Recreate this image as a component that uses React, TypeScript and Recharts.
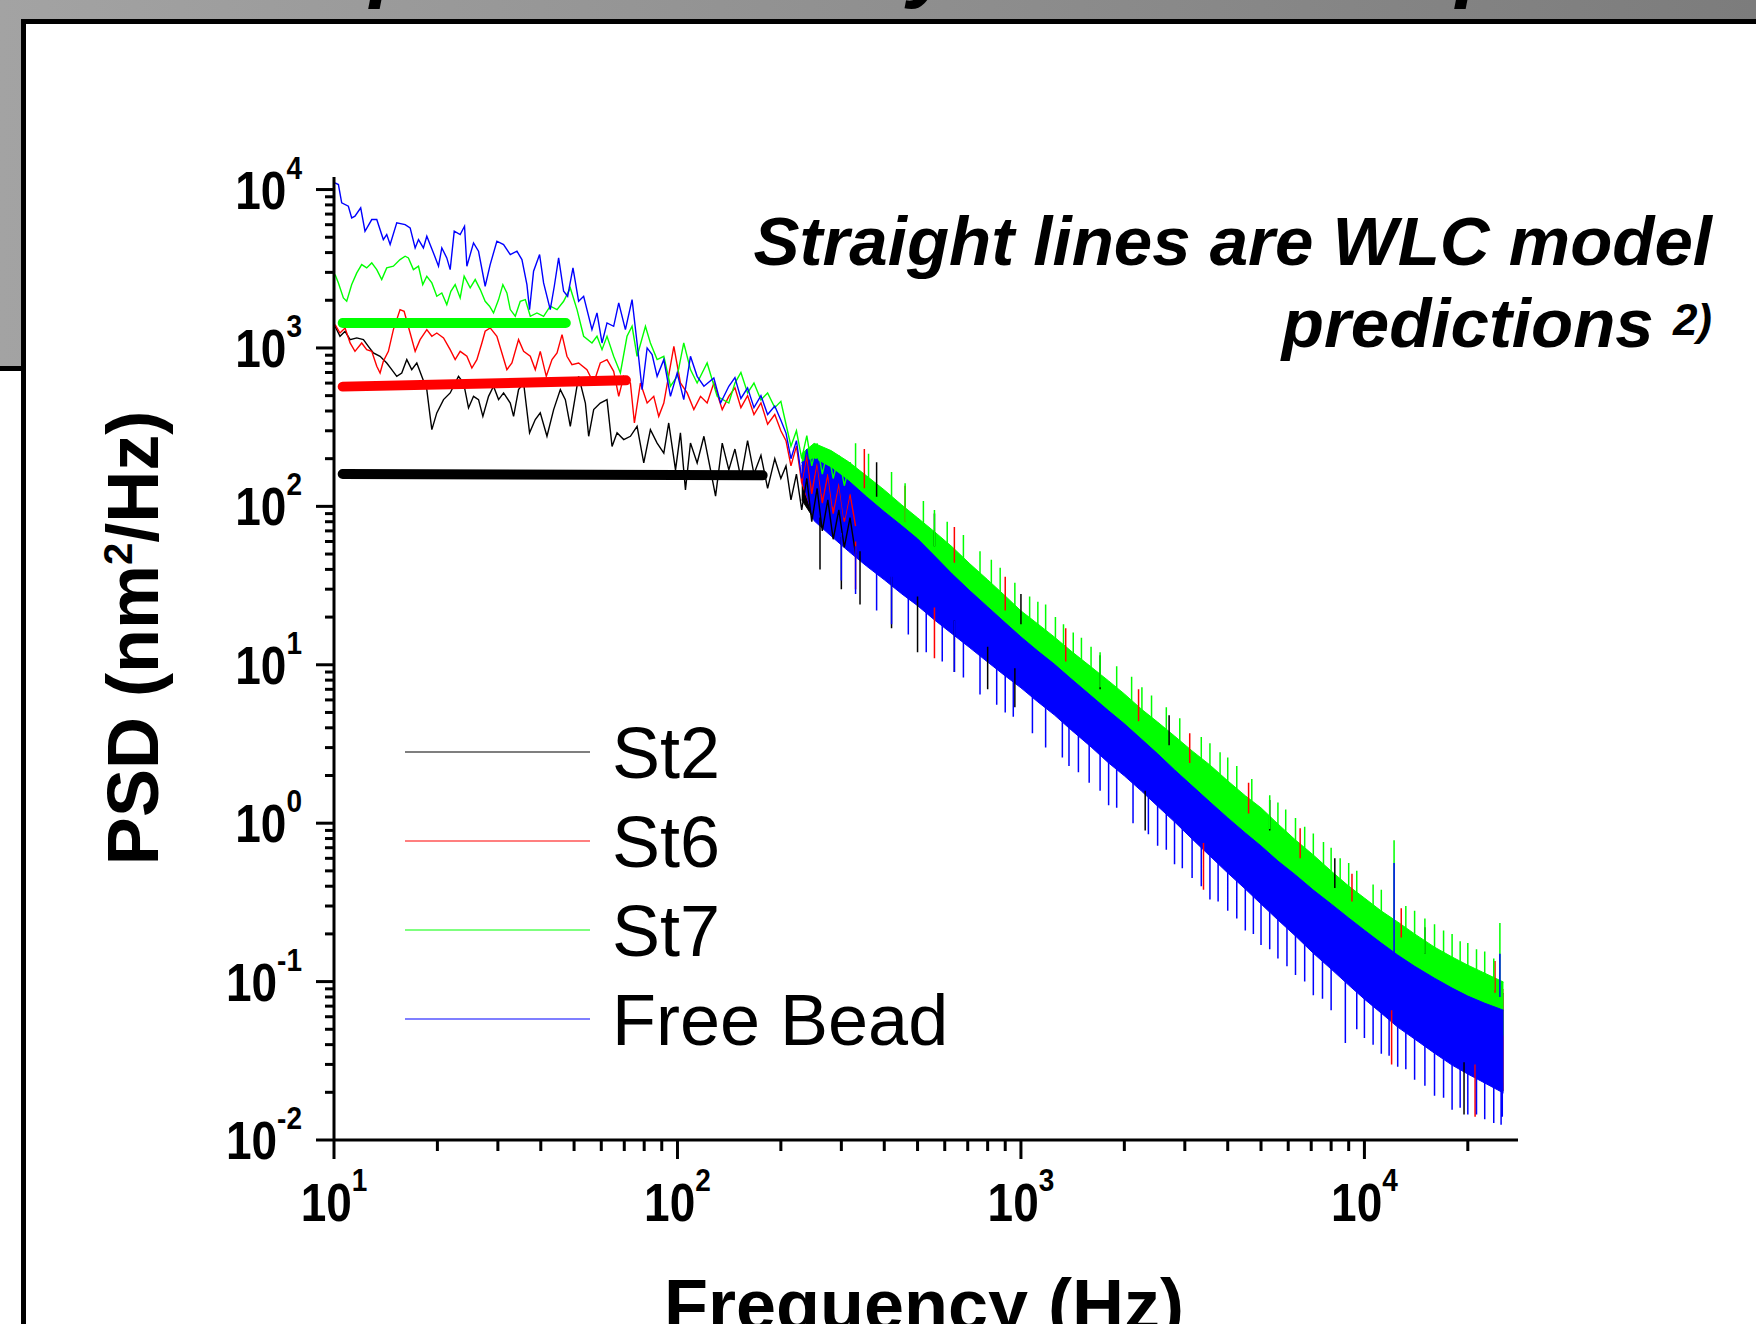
import { ComposedChart, Line, Area, XAxis, YAxis, Legend } from 'recharts'

const FONT = '"Liberation Sans", Arial, Helvetica, sans-serif'

const SERIES = ['St2', 'St6', 'St7', 'Free Bead']
const COLORS = ['#000000', '#ff0000', '#00ff00', '#0000ff']

const X_DECADES = [10, 100, 1000, 10000]
const Y_DECADES = [0.01, 0.1, 1, 10, 100, 1000, 10000]
const MINOR = [1, 2, 3, 4, 5, 6, 7, 8, 9]
const X_DOMAIN: [number, number] = [10, 28000]
const Y_DOMAIN: [number, number] = [0.01, 12000]

// low frequency part of each spectrum, [Hz, nm^2/Hz]
const ST2_LOW = [
  [10.07, 1370], [10.41, 1185], [10.77, 1274], [11.14, 1129], [11.65, 1157], [12.18, 1129], [12.59, 1024], [13.02, 930],
  [13.62, 886], [14.24, 804], [14.73, 730], [15.23, 662], [15.75, 695], [16.29, 844], [16.84, 730], [17.42, 804],
  [18.01, 662], [18.63, 546], [19.05, 370], [19.27, 305], [19.92, 389], [20.84, 472], [21.79, 520], [23.04, 662],
  [23.84, 601], [24.64, 418], [25.48, 495], [26.35, 472], [27.13, 370], [28.18, 495], [29.14, 573], [30.14, 472],
  [31.17, 520], [32.6, 449], [33.33, 370], [34.46, 546], [35.65, 601], [37.1, 291], [38.55, 353], [39.86, 389],
  [41.69, 277], [43.6, 408], [45.6, 546], [47.16, 472], [48.75, 320], [51.55, 662], [53.93, 449], [55.14, 277],
  [57.02, 408], [59.6, 449], [62.35, 472], [64.5, 239], [66.7, 291], [69.74, 264], [72.94, 277], [76.28, 320],
  [79.77, 188], [83.4, 305], [87.25, 251], [91.25, 217], [94.3, 336], [98.7, 170], [102, 291], [105.5, 127],
  [109.1, 251], [114.1, 188], [119.4, 277], [124.8, 170], [129.1, 116], [135, 251], [141.1, 170], [147, 230],
  [153, 150], [160, 260], [167, 160], [175, 210], [183, 130], [192, 200], [200, 150], [207, 180], [214, 110],
  [222, 160], [230, 95], [238, 150], [246, 80], [255, 130], [264, 70], [274, 110], [284, 62], [295, 95], [306, 55],
  [318, 85], [330, 50],
]
const ST6_LOW = [
  [10.07, 1404], [10.41, 1243], [10.77, 1338], [11.14, 1075], [11.51, 952], [12.04, 1075], [12.45, 976], [12.88, 952],
  [13.32, 766], [13.62, 695], [13.92, 824], [14.4, 952], [14.89, 1306], [15.23, 1510], [15.57, 1747], [16, 1705],
  [16.66, 1243], [17.23, 952], [17.81, 1129], [18.63, 1306], [19.27, 1185], [19.92, 1243], [20.84, 1157], [21.79, 976],
  [22.53, 844], [23.3, 952], [24.37, 886], [25.2, 747], [26.06, 844], [26.95, 1075], [27.55, 1274], [28.49, 1338],
  [29.8, 1185], [30.82, 930], [31.87, 730], [32.96, 804], [34.46, 1129], [35.65, 952], [37.28, 886], [38.55, 730],
  [39.86, 952], [41.5, 662], [43.12, 844], [44.6, 930], [46.12, 1214], [47.67, 886], [49.3, 785], [51.55, 804],
  [54.5, 730], [57.02, 601], [59.6, 804], [62.35, 844], [65.2, 712], [67.45, 495], [69.74, 662], [72.94, 601],
  [74.93, 336], [78, 601], [81.6, 449], [85.3, 495], [88.2, 370], [91.25, 449], [97.6, 1024], [102, 601],
  [106.7, 520], [111.6, 408], [116.7, 495], [122, 449], [127.6, 601], [135, 408], [141.1, 495], [147, 560],
  [153, 420], [160, 500], [167, 380], [175, 450], [183, 330], [192, 380], [200, 300], [207, 260], [214, 180],
  [222, 240], [230, 140], [238, 210], [246, 120], [255, 190], [264, 105], [274, 160], [284, 90], [295, 140], [306, 80],
  [318, 120], [330, 75],
]
const ST7_LOW = [
  [10.07, 2905], [10.3, 2574], [10.65, 2069], [10.89, 1971], [11.26, 2512], [11.65, 2977], [12.04, 3360], [12.45, 3201],
  [12.88, 3442], [13.32, 3124], [13.77, 2702], [14.24, 3201], [14.89, 3280], [15.57, 3613], [16.11, 3793], [16.47, 3702],
  [17.03, 3124], [17.62, 3280], [18.13, 2512], [18.63, 2836], [19.27, 2574], [19.92, 2120], [20.6, 2225], [21.3, 1878],
  [21.89, 2280], [22.53, 2512], [23.3, 2069], [23.93, 2836], [24.92, 2393], [25.77, 2702], [26.66, 2336], [27.55, 1971],
  [28.37, 1834], [29.14, 1664], [30.14, 2020], [31.02, 2512], [31.87, 2225], [32.6, 1747], [33.71, 1585], [34.86, 1971],
  [36.06, 2020], [37.28, 1585], [38.98, 1664], [40.76, 1585], [42.62, 1834], [44.6, 1747], [46.62, 1971], [48.75, 2393],
  [51, 1747], [53.31, 1185], [56.37, 1075], [58.3, 1185], [60.3, 976], [62.35, 1185], [65.2, 886], [68.2, 695],
  [71.3, 1185], [73.76, 1370], [76.28, 886], [80.68, 1370], [83.4, 1075], [87.25, 844], [91.25, 886], [95.41, 573],
  [99.8, 662], [104.3, 1075], [109.1, 730], [114.1, 601], [122, 804], [130.5, 495], [141.1, 449], [147, 600],
  [153, 700], [160, 520], [167, 600], [175, 470], [183, 520], [192, 420], [200, 460], [207, 330], [214, 240],
  [222, 300], [230, 200], [238, 280], [246, 180], [255, 250], [264, 160], [274, 230], [284, 150], [295, 210], [306, 135],
  [318, 190], [330, 140],
]
const FREE_LOW = [
  [10.07, 11020], [10.3, 10750], [10.53, 8236], [11.01, 7846], [11.26, 6624], [11.51, 6785], [11.96, 7660], [12.31, 5455],
  [12.88, 6464], [13.32, 6464], [13.92, 4833], [14.24, 5197], [14.57, 4494], [15.23, 6158], [16.11, 6012], [16.66, 5727],
  [17.23, 4281], [17.62, 4833], [18.21, 4281], [18.63, 5073], [19.48, 3981], [20.15, 3280], [20.6, 4281], [21.3, 3702],
  [21.79, 3124], [22.39, 5455], [23.3, 5197], [23.99, 5866], [24.37, 3280], [25.48, 4605], [26.35, 4079], [27.55, 2452],
  [28.49, 3360], [29.8, 4718], [31.17, 4494], [32.6, 3886], [34.09, 4079], [35.25, 3613], [36.45, 2512], [37.1, 1747],
  [38.11, 3050], [39.68, 3886], [40.76, 2574], [42.62, 1747], [43.79, 2452], [45.08, 3702], [46.62, 2280], [47.89, 2120],
  [49.63, 3201], [51.55, 1971], [53.31, 2120], [56.37, 1306], [58.3, 1664], [60.3, 1075], [62.35, 1439], [65.2, 1370],
  [67.45, 1924], [70.53, 1306], [73.76, 2020], [76.28, 1075], [78.89, 546], [81.6, 1000], [84.36, 908], [87.25, 662],
  [91.25, 844], [95.41, 495], [99.8, 695], [104.3, 472], [109.1, 886], [114.1, 662], [119.4, 573], [127.6, 646],
  [133.5, 449], [141.1, 573], [147, 650], [153, 480], [160, 560], [167, 420], [175, 500], [183, 380], [192, 430],
  [200, 350], [207, 290], [214, 200], [222, 260], [230, 150], [238, 230], [246, 140], [255, 200], [264, 120], [274, 175],
  [284, 100], [295, 150], [306, 85], [318, 130], [330, 90],
]

// high frequency part: traces are so dense they read as a band, [low, high] at each BAND_F
const BAND_F = [
  230, 250, 280, 315, 355, 400, 450, 500, 560, 630, 710, 800, 900, 1000, 1120, 1250, 1400, 1600, 1800, 2000, 2240, 2500,
  2800, 3150, 3550, 4000, 4500, 5000, 5600, 6300, 7100, 8000, 9000, 10000, 11200, 12500, 14000, 16000, 18000, 20000,
  22400, 25400,
]
const ST2_BAND = [
  [110, 150], [83, 210], [67, 191], [53.5, 162], [43, 133], [35.4, 108], [28.8, 87], [24.3, 72], [19.8, 59], [16.2, 47],
  [13.2, 37], [10.7, 29], [8.75, 23], [7.36, 18.6], [6.0, 15.4], [4.97, 12.8], [4.0, 10.4], [3.12, 8.2], [2.47, 6.7],
  [2.05, 5.6], [1.65, 4.5], [1.32, 3.7], [1.05, 3.0], [0.82, 2.43], [0.64, 1.98], [0.5, 1.57], [0.395, 1.27], [0.318, 1.06],
  [0.252, 0.84], [0.2, 0.67], [0.156, 0.54], [0.124, 0.42], [0.098, 0.34], [0.08, 0.286], [0.065, 0.237], [0.053, 0.202],
  [0.0447, 0.17], [0.0364, 0.14], [0.0306, 0.122], [0.0269, 0.108], [0.0236, 0.096], [0.0204, 0.084],
]
const ST6_BAND = [
  [140, 180], [85, 225], [68, 203], [55, 172], [44, 140], [36, 114], [29.4, 92], [24.8, 76], [20.2, 62], [16.5, 50],
  [13.4, 39], [10.9, 31], [8.9, 24.5], [7.5, 19.7], [6.1, 16.3], [5.07, 13.5], [4.07, 11], [3.18, 8.7], [2.52, 7.1],
  [2.09, 5.9], [1.68, 4.7], [1.34, 3.9], [1.07, 3.2], [0.835, 2.57], [0.652, 2.1], [0.509, 1.67], [0.403, 1.34],
  [0.324, 1.12], [0.257, 0.89], [0.204, 0.7], [0.159, 0.57], [0.126, 0.45], [0.1, 0.36], [0.081, 0.3], [0.066, 0.25],
  [0.054, 0.214], [0.0456, 0.18], [0.037, 0.149], [0.0312, 0.129], [0.0274, 0.114], [0.024, 0.102], [0.0208, 0.089],
]
const ST7_BAND = [
  [190, 215], [140, 250], [125, 225], [102, 191], [80, 156], [65, 127], [53, 102], [44, 84.7], [34, 69.2], [26, 55.6],
  [20.5, 43.4], [16.2, 34.4], [12.9, 27.2], [10.5, 21.9], [8.5, 18.1], [7.1, 15.0], [5.7, 12.2], [4.5, 9.7], [3.6, 7.91],
  [3.0, 6.55], [2.4, 5.26], [1.92, 4.35], [1.52, 3.55], [1.2, 2.86], [0.95, 2.33], [0.76, 1.85], [0.61, 1.49], [0.5, 1.25],
  [0.4, 0.989], [0.33, 0.783], [0.265, 0.63], [0.216, 0.499], [0.176, 0.401], [0.148, 0.337], [0.122, 0.279],
  [0.103, 0.238], [0.0875, 0.2], [0.0735, 0.165], [0.064, 0.143], [0.057, 0.127], [0.051, 0.113], [0.046, 0.0993],
]
const FREE_BAND = [
  [150, 190], [81, 200], [65, 175], [52, 145], [42, 115], [34.4, 92.5], [28, 75.4], [23.6, 62.4], [19.2, 48.7],
  [15.7, 37.5], [12.8, 29.3], [10.4, 23.2], [8.5, 18.4], [7.15, 15.0], [5.83, 12.2], [4.83, 10.1], [3.88, 8.15],
  [3.03, 6.37], [2.4, 5.12], [1.99, 4.24], [1.6, 3.4], [1.28, 2.74], [1.02, 2.17], [0.795, 1.72], [0.621, 1.36],
  [0.485, 1.08], [0.384, 0.867], [0.309, 0.718], [0.245, 0.577], [0.194, 0.471], [0.151, 0.378], [0.12, 0.309],
  [0.095, 0.252], [0.0775, 0.211], [0.0632, 0.175], [0.0516, 0.147], [0.0434, 0.125], [0.0353, 0.105], [0.0297, 0.091],
  [0.0261, 0.081], [0.0229, 0.073], [0.0198, 0.066],
]

// single spikes that stick out of the bands, [Hz, low, high]
const ST2_SPIKES = [
  [260, 40, 85], [300, 30, 64], [340, 24, 52], [380, 115, 190], [420, 17, 36], [500, 12, 27], [560, 56, 90], [640, 9, 19],
  [800, 7, 13], [960, 5.4, 9.5], [1000, 18, 28], [1700, 7, 11.5], [2300, 0.9, 1.6], [2700, 3.1, 4.8], [5300, 0.9, 1.4],
  [8200, 0.39, 0.6], [15000, 0.15, 0.22], [19500, 0.0145, 0.031],
]
const ST6_SPIKES = [
  [330, 30, 60], [350, 130, 230], [460, 80, 135], [560, 11, 23], [640, 44, 74], [900, 22, 36], [1350, 10.5, 17],
  [2200, 4.4, 7], [3100, 2.4, 3.7], [3400, 0.38, 0.75], [4600, 1.15, 1.8], [6500, 0.6, 0.93], [9200, 0.32, 0.48],
  [12000, 0.03, 0.066], [12800, 0.19, 0.29], [21000, 0.014, 0.03], [24000, 0.085, 0.135],
]
const ST7_SPIKES = [
  [330, 150, 250], [360, 125, 215], [420, 95, 165], [460, 80, 140], [520, 66, 108], [560, 56, 95], [610, 48, 80],
  [680, 38, 66], [760, 31, 52], [820, 27, 46], [870, 24, 41], [960, 19.5, 33], [1060, 16, 27], [1120, 14.5, 25],
  [1180, 13.5, 24], [1260, 12, 20], [1330, 11, 18], [1420, 9.6, 16], [1500, 9, 14.8], [1600, 7.8, 13], [1700, 7.2, 12],
  [1900, 5.8, 9.8], [2100, 5, 8.4], [2250, 4.2, 7.2], [2400, 3.9, 6.4], [2650, 3.3, 5.4], [2900, 2.7, 4.6],
  [3350, 2.1, 3.5], [3550, 1.9, 3.2], [3800, 1.7, 2.8], [4000, 1.5, 2.6], [4250, 1.4, 2.3], [4700, 1.1, 1.9],
  [5300, 0.92, 1.5], [5600, 0.8, 1.35], [5900, 0.75, 1.22], [6300, 0.63, 1.08], [6700, 0.58, 0.95], [7100, 0.5, 0.86],
  [7600, 0.46, 0.76], [8000, 0.4, 0.7], [8500, 0.37, 0.6], [9000, 0.32, 0.56], [9500, 0.3, 0.5], [10600, 0.25, 0.41],
  [11200, 0.22, 0.38], [12200, 0.25, 0.78], [13200, 0.18, 0.3], [14000, 0.16, 0.28], [15000, 0.15, 0.25],
  [16000, 0.13, 0.23], [17000, 0.13, 0.21], [18000, 0.115, 0.2], [19000, 0.11, 0.18], [20000, 0.1, 0.175],
  [21200, 0.1, 0.16], [22400, 0.09, 0.155], [23800, 0.088, 0.14], [24800, 0.1, 0.234],
]
const FREE_SPIKES = [
  [300, 34, 68], [330, 28, 56], [380, 22, 45], [420, 18, 38], [470, 15.5, 31], [530, 12, 26], [590, 10.5, 21], [640, 9, 19],
  [680, 8.3, 17], [760, 6.5, 14], [850, 5.6, 11.5], [900, 5, 10], [950, 4.7, 9.5], [1080, 3.7, 7.5], [1180, 3, 6.5],
  [1320, 2.6, 5.2], [1380, 2.3, 4.9], [1470, 2.1, 4.3], [1580, 1.8, 3.8], [1700, 1.6, 3.3], [1800, 1.3, 2.9],
  [1900, 1.25, 2.6], [2120, 1.0, 2.2], [2350, 0.85, 1.8], [2500, 0.72, 1.55], [2650, 0.68, 1.4], [2800, 0.55, 1.25],
  [2950, 0.52, 1.1], [3150, 0.45, 0.97], [3350, 0.4, 0.86], [3550, 0.33, 0.75], [3750, 0.32, 0.66], [4000, 0.28, 0.59],
  [4250, 0.25, 0.52], [4500, 0.21, 0.47], [4750, 0.2, 0.42], [5000, 0.17, 0.38], [5300, 0.16, 0.34], [5600, 0.14, 0.3],
  [5950, 0.125, 0.27], [6300, 0.11, 0.24], [6700, 0.1, 0.21], [7100, 0.082, 0.185], [7550, 0.078, 0.165],
  [8000, 0.066, 0.145], [8800, 0.041, 0.12], [9500, 0.05, 0.1], [10000, 0.044, 0.095], [10600, 0.04, 0.086],
  [11200, 0.035, 0.077], [11800, 0.034, 0.07], [12200, 0.12, 0.56], [12500, 0.029, 0.063], [13200, 0.028, 0.058],
  [14000, 0.024, 0.053], [15000, 0.022, 0.048], [16000, 0.019, 0.043], [17000, 0.0185, 0.04], [18000, 0.0155, 0.036],
  [19000, 0.016, 0.034], [20000, 0.0145, 0.032], [21200, 0.0145, 0.03], [22400, 0.0135, 0.028], [23800, 0.0128, 0.026],
  [24800, 0.08, 0.15], [25000, 0.0125, 0.024], [25200, 0.014, 0.023],
]

// WLC model predictions (straight lines)
const ST2_MODEL = [[10.6, 160], [177, 157]]
const ST6_MODEL = [[10.6, 570], [70.8, 625]]
const ST7_MODEL = [[10.6, 1439], [47.3, 1439]]

const lowRows = (pts: number[][]) => pts.map(([f, v]) => ({ f, v }))
const bandRows = (band: number[][]) => BAND_F.map((f, i) => ({ f, r: band[i] }))
const spikeRows = (sp: number[][]) => sp.flatMap(([f, lo, hi]) => [{ f, v: lo }, { f, v: hi }, { f, v: null }])

const isMajor = (v: number) => Math.abs(Math.log10(v) - Math.round(Math.log10(v))) < 1e-6
const xTicks = X_DECADES.flatMap(d => MINOR.map(m => d * m)).filter(t => t <= X_DOMAIN[1])
const yTicks = Y_DECADES.flatMap(d => MINOR.map(m => d * m)).filter(t => t <= Y_DOMAIN[1])

function PowLabel({ x, y, exp, anchor }: { x: number; y: number; exp: number; anchor: 'end' | 'middle' }) {
  // the slide's tick digits are a little taller than plain Arial
  return (
    <text transform={`translate(${x},${y}) scale(1,1.15)`} textAnchor={anchor} fontFamily={FONT} fontWeight="bold" fontSize={46} fill="#000">
      10<tspan dy={-26} fontSize={28}>{exp}</tspan>
    </text>
  )
}

function YTick(props: any) {
  const { x, y, payload } = props
  const major = isMajor(payload.value)
  return (
    <g>
      <line x1={x - (major ? 18 : 9)} x2={x} y1={y} y2={y} stroke="#000" strokeWidth={3} />
      {major && <PowLabel x={x - 32} y={y + 19} exp={Math.round(Math.log10(payload.value))} anchor="end" />}
    </g>
  )
}

function XTick(props: any) {
  const { x, y, payload } = props
  const major = isMajor(payload.value)
  return (
    <g>
      <line x1={x} x2={x} y1={y} y2={y + (major ? 19 : 11)} stroke="#000" strokeWidth={3} />
      {major && <PowLabel x={x} y={y + 81} exp={Math.round(Math.log10(payload.value))} anchor="middle" />}
    </g>
  )
}

function LegendBox() {
  return (
    <svg width={620} height={360}>
      {SERIES.map((name, i) => (
        <g key={name}>
          <line x1={5} x2={190} y1={52 + i * 89} y2={52 + i * 89} stroke={COLORS[i]} strokeWidth={1.2} />
          <text x={212} y={78 + i * 89} fontFamily={FONT} fontSize={72} fill="#000">{name}</text>
        </g>
      ))}
    </svg>
  )
}

const LOWS = [ST2_LOW, ST6_LOW, ST7_LOW, FREE_LOW]
const BANDS = [ST2_BAND, ST6_BAND, ST7_BAND, FREE_BAND]
const SPIKES = [ST2_SPIKES, ST6_SPIKES, ST7_SPIKES, FREE_SPIKES]
const MODELS = [ST2_MODEL, ST6_MODEL, ST7_MODEL]

export default function App() {
  return (
    <div style={{ position: 'absolute', left: 0, top: 0, width: 1756, height: 1324, overflow: 'hidden', background: '#fff' }}>
      <div style={{ position: 'absolute', left: 0, top: 0, width: 1756, height: 366, background: 'linear-gradient(to right, #a3a3a3, #7c7c7c)', borderBottom: '5px solid #000' }} />
      <div style={{ position: 'absolute', left: 21, top: 19, width: 1800, height: 1400, background: '#fff', borderLeft: '5px solid #000', borderTop: '5px solid #000' }} />
      <div style={{ position: 'absolute', left: 0, top: 0 }}>
        <ComposedChart width={1756} height={1324} margin={{ top: 177, right: 238, bottom: 0, left: 0 }}>
          <XAxis dataKey="f" type="number" scale="log" domain={X_DOMAIN} allowDataOverflow ticks={xTicks} interval={0}
            tick={<XTick />} tickLine={false} tickSize={0} tickMargin={0} height={184}
            axisLine={{ stroke: '#000', strokeWidth: 3 }} />
          <YAxis type="number" scale="log" domain={Y_DOMAIN} allowDataOverflow ticks={yTicks} interval={0}
            tick={<YTick />} tickLine={false} tickSize={0} tickMargin={0} width={334}
            axisLine={{ stroke: '#000', strokeWidth: 3 }} />
          {BANDS.map((b, i) => (
            <Area key={'band' + i} data={bandRows(b)} dataKey="r" type="linear" stroke={COLORS[i]} strokeWidth={1}
              fill={COLORS[i]} fillOpacity={1} dot={false} activeDot={false} isAnimationActive={false} />
          ))}
          {LOWS.map((pts, i) => (
            <Line key={'low' + i} data={lowRows(pts)} dataKey="v" type="linear" stroke={COLORS[i]} strokeWidth={1.4}
              dot={false} activeDot={false} isAnimationActive={false} />
          ))}
          {SPIKES.map((sp, i) => (
            <Line key={'spike' + i} data={spikeRows(sp)} dataKey="v" type="linear" stroke={COLORS[i]} strokeWidth={1.5}
              dot={false} activeDot={false} isAnimationActive={false} />
          ))}
          {MODELS.map((pts, i) => (
            <Line key={'model' + i} data={lowRows(pts)} dataKey="v" type="linear" stroke={COLORS[i]} strokeWidth={10}
              strokeLinecap="round" dot={false} activeDot={false} isAnimationActive={false} />
          ))}
          <Legend layout="vertical" align="center" verticalAlign="middle" content={<LegendBox />}
            wrapperStyle={{ position: 'absolute', left: 400, top: 700, width: 620, height: 360 }} />
        </ComposedChart>
      </div>
      <svg width={1756} height={1324} style={{ position: 'absolute', left: 0, top: 0, pointerEvents: 'none' }}>
        <g fontFamily={FONT} fontWeight="bold" fontStyle="italic" fontSize={84} fill="#000">
          <text x={370} y={-8}>p</text>
          <text x={908} y={-8}>y</text>
          <text x={1456} y={-8}>p</text>
        </g>
        <text transform="translate(158,638) rotate(-90)" textAnchor="middle" fontFamily={FONT} fontWeight="bold" fontSize={72} fill="#000">
          PSD (nm<tspan dy={-26} fontSize={40}>2</tspan><tspan dy={26}>/Hz)</tspan>
        </text>
        <text x={924} y={1330} textAnchor="middle" fontFamily={FONT} fontWeight="bold" fontSize={72} fill="#000">Frequency (Hz)</text>
        <g fontFamily={FONT} fontWeight="bold" fontStyle="italic" fill="#000" textAnchor="end">
          <text x={1712} y={265} fontSize={69}>Straight lines are WLC model</text>
          <text x={1712} y={347} fontSize={69}>predictions <tspan fontSize={44} dy={-12}>2)</tspan></text>
        </g>
      </svg>
    </div>
  )
}
